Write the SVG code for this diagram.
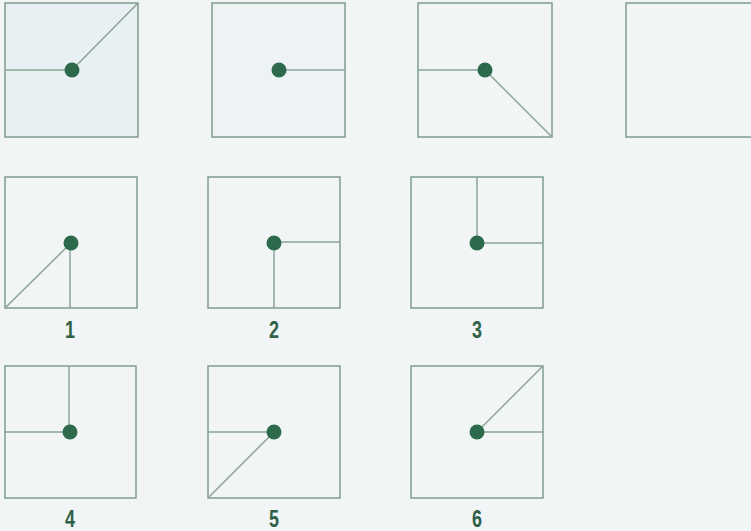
<svg xmlns="http://www.w3.org/2000/svg" width="751" height="531" viewBox="0 0 751 531">
<style>
.box{fill:none;stroke:#7f9c8c;stroke-width:1.5}
.ln{stroke:#8aa596;stroke-width:1.5;fill:none}
.dot{fill:#2d6a4c}
.lbl{font-family:"Liberation Sans",Arial,sans-serif;font-weight:bold;font-size:23px;fill:#2f6048;text-anchor:middle}
</style>
<rect width="751" height="531" fill="#f1f5f5"/>
<rect x="5" y="3" width="133" height="134" fill="#e9f0f3"/>
<rect x="212" y="3" width="133" height="134" fill="#edf3f5"/>
<g id="q1">
<rect class="box" x="5" y="3" width="133" height="134"/>
<path class="ln" d="M5 70H72L138 3"/>
<circle class="dot" cx="72" cy="70" r="7.5"/>
</g>
<g id="q2">
<rect class="box" x="212" y="3" width="133" height="134"/>
<path class="ln" d="M279 70H345"/>
<circle class="dot" cx="279" cy="70" r="7.5"/>
</g>
<g id="q3">
<rect class="box" x="418" y="3" width="134" height="134"/>
<path class="ln" d="M418 70H485L552 137"/>
<circle class="dot" cx="485" cy="70" r="7.5"/>
</g>
<g id="q4">
<rect class="box" x="626" y="3" width="140" height="134"/>
</g>
<g id="a1">
<rect class="box" x="5" y="177" width="132" height="131"/>
<path class="ln" d="M5 308L71 243M70 243V308"/>
<circle class="dot" cx="71" cy="243" r="7.5"/>
<text class="lbl" transform="translate(70 338) scale(0.78 1)">1</text>
</g>
<g id="a2">
<rect class="box" x="208" y="177" width="132" height="131"/>
<path class="ln" d="M274 242H340M274 242V308"/>
<circle class="dot" cx="274" cy="243" r="7.5"/>
<text class="lbl" transform="translate(274 338) scale(0.78 1)">2</text>
</g>
<g id="a3">
<rect class="box" x="411" y="177" width="132" height="131"/>
<path class="ln" d="M477 177V243H543"/>
<circle class="dot" cx="477" cy="243" r="7.5"/>
<text class="lbl" transform="translate(477 338) scale(0.78 1)">3</text>
</g>
<g id="a4">
<rect class="box" x="5" y="366" width="131" height="132"/>
<path class="ln" d="M69 366V432H5"/>
<circle class="dot" cx="70" cy="432" r="7.5"/>
<text class="lbl" transform="translate(70 527) scale(0.78 1)">4</text>
</g>
<g id="a5">
<rect class="box" x="208" y="366" width="132" height="132"/>
<path class="ln" d="M208 432H274L208 498"/>
<circle class="dot" cx="274" cy="432" r="7.5"/>
<text class="lbl" transform="translate(274 527) scale(0.78 1)">5</text>
</g>
<g id="a6">
<rect class="box" x="411" y="366" width="132" height="132"/>
<path class="ln" d="M543 366L477 432H543"/>
<circle class="dot" cx="477" cy="432" r="7.5"/>
<text class="lbl" transform="translate(477 527) scale(0.78 1)">6</text>
</g>
</svg>
